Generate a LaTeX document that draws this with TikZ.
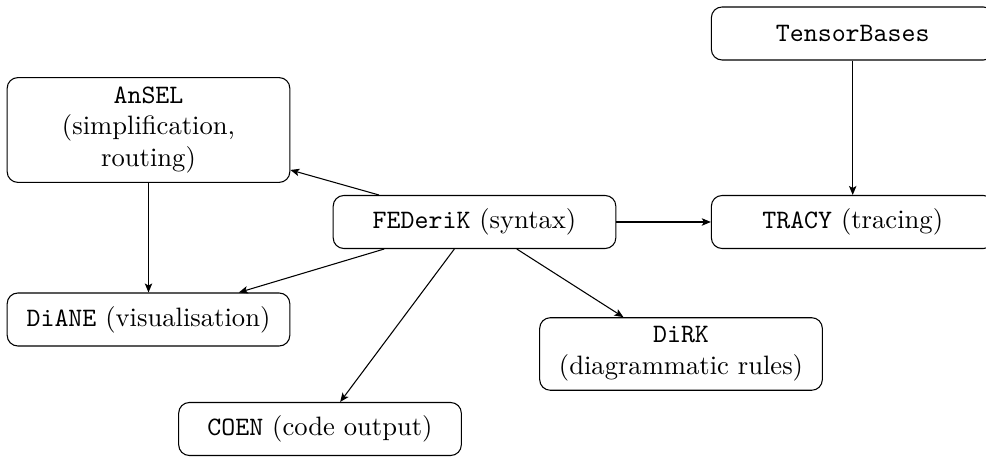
\documentclass[tikz,border=0pt]{standalone}
\usetikzlibrary{arrows.meta}

\tikzset{
  module/.style={draw, rounded corners=4pt, text width=3.5cm, align=center,
    minimum height=0.7cm, inner sep=3.33pt},
  link/.style={-{Stealth[length=3.4pt,width=2.8pt,inset=0.8pt]}}
}

\begin{document}
\begin{tikzpicture}[x=0.3759pt, y=-0.3759pt]
  % frame of the page
  \clip (0,0) rectangle (986,457);

  % modules
  \node[module] (ansel) at (148.5,130) {\texttt{AnSEL}\\(simplification,\\routing)};
  \node[module] (federik) at (474.5,222) {\texttt{FEDeriK} (syntax)};
  \node[module] (tracy) at (852.7,222) {\texttt{TRACY} (tracing)};
  \node[module] (tensor) at (852.7,33.5) {\texttt{TensorBases}};
  \node[module] (diane) at (148.5,319.5) {\texttt{DiANE} (visualisation)};
  \node[module] (dirk) at (681,354) {\texttt{DiRK}\\(diagrammatic rules)};
  \node[module] (coen) at (320,429) {\texttt{COEN} (code output)};

  % dependencies
  \draw[link] (federik) -- (ansel);
  \draw[link] (federik) -- (diane);
  \draw[link] (federik) -- (coen);
  \draw[link] (federik) -- (dirk);
  \draw[link] (federik) -- (tracy);
  \draw[link] (ansel) -- (diane);
  \draw[link] (tensor) -- (tracy);
\end{tikzpicture}
\end{document}
